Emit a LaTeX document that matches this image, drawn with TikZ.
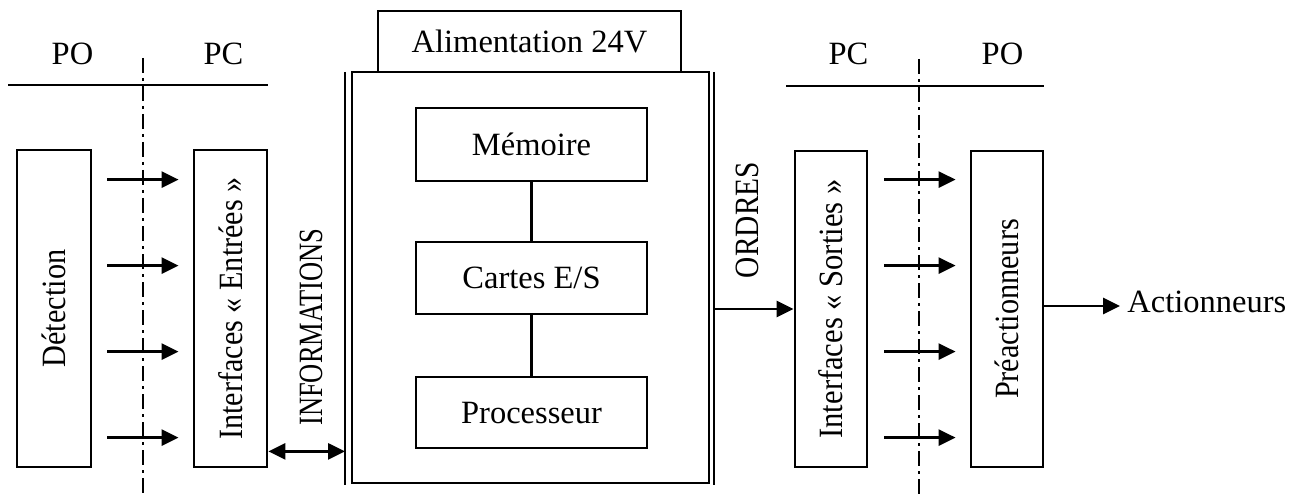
\documentclass[tikz,border=0pt]{standalone}
\usepackage{fontspec}
\setmainfont{Liberation Serif}
\usetikzlibrary{arrows.meta}
\newcommand\txtfont{\fontsize{16.25}{19}\selectfont}
\newcommand\rotfont{\fontsize{17}{20}\selectfont}
% text turned to read upwards, condensed along its length by #1
\newcommand\vlabel[2]{\rotatebox{90}{\scalebox{#1}[1]{#2}}}
\begin{document}
\begin{tikzpicture}[x=0.5pt, y=-0.5pt,
  stroke/.style={line width=1.4pt},
  box/.style={draw, line width=1.4pt, inner sep=0pt, font=\txtfont,
    text height=10.8pt, text depth=0pt},
  vbox/.style={draw, line width=1.4pt, inner sep=0pt, font=\rotfont},
  plain/.style={inner sep=0pt, font=\txtfont},
  tip/.tip={Triangle[length=8.5pt,width=8pt]},
  arr/.style={line width=1.4pt, -tip},
  darr/.style={line width=1.4pt, tip-tip},
  axis/.style={line width=1.1pt, dash pattern=on 7.5pt off 2.5pt on 1.5pt off 2.5pt}]
\useasboundingbox (0,0) rectangle (1304,497);

% ---- input side: PO | PC
\node[vbox, minimum width=37pt, minimum height=158.5pt] (det) at (54,308.5)
  {\vlabel{0.89}{Détection}};
\node[vbox, minimum width=36.5pt, minimum height=158.5pt] (inE) at (230.5,308.5)
  {\vlabel{0.887}{Interfaces « Entrées »}};
\node[plain, anchor=base] (poL) at (72.5,65) {PO};
\node[plain, anchor=base] (pcL) at (223.5,65) {PC};
\coordinate (hl) at (8,85);
\draw[stroke] (hl) -- (hl -| inE.east);
\coordinate (axL1) at (143,58);
\coordinate (axL2) at (143,497);
\draw[axis] (axL1) -- (axL2);
\foreach \dy in {31,117,203,289}
  \draw[arr] ([shift={(15,\dy)}]det.north east) -- ([shift={(-14,\dy)}]inE.north west);

% ---- automate
\node[box, minimum width=151.5pt, minimum height=30.5pt] (alim) at (529.5,41.5) {Alimentation 24V};
\node[box, minimum width=178.5pt, minimum height=205.5pt] (plc) at (530.5,277.5) {};
\node[box, minimum width=115.5pt, minimum height=36.5pt] (mem) at (531.5,144.5) {Mémoire};
\node[box, minimum width=115.5pt, minimum height=36pt] (car) at (531.5,278) {Cartes E/S};
\node[box, minimum width=115.5pt, minimum height=35.5pt] (proc) at (531.5,412.5) {Processeur};
\draw[stroke] (mem) -- (car);
\draw[stroke] (car) -- (proc);
\coordinate (oL1) at (345,72);
\coordinate (oL2) at (345,485);
\coordinate (oR1) at (714,72);
\coordinate (oR2) at (714,485);
\draw[stroke] (oL1) -- (oL2);
\draw[stroke] (oR1) -- (oR2);

% ---- information flow
\node[inner sep=0pt, font=\rotfont] (info) at (311,327) {\vlabel{0.78}{INFORMATIONS}};
\coordinate (ia) at ([yshift=8.5pt]inE.south east);
\draw[darr] (ia) -- (ia -| oL1);

% ---- output side: PC | PO
\node[vbox, minimum width=36pt, minimum height=158pt] (inS) at (831,309)
  {\vlabel{0.9}{Interfaces « Sorties »}};
\node[vbox, minimum width=36pt, minimum height=158pt] (pre) at (1007,309)
  {\vlabel{0.89}{Préactionneurs}};
\node[inner sep=0pt, font=\rotfont] (ord) at (747,220) {\vlabel{0.865}{ORDRES}};
\draw[arr] (inS.west -| oR1) -- (inS.west);
\node[plain, anchor=base] (pcR) at (848.5,65) {PC};
\node[plain, anchor=base] (poR) at (1002.5,65) {PO};
\coordinate (hr) at (786,86);
\draw[stroke] (hr) -- (hr -| pre.east);
\coordinate (axR1) at (919,59);
\coordinate (axR2) at (919,497);
\draw[axis] (axR1) -- (axR2);
\foreach \dy in {30,116,202,288}
  \draw[arr] ([shift={(16,\dy)}]inS.north east) -- ([shift={(-14,\dy)}]pre.north west);

\node[plain, anchor=west, inner xsep=3.5pt, text height=10.8pt, text depth=4pt] (act) at (1120,306) {Actionneurs};
\draw[arr] (pre.east |- act.west) -- (act.west);
\end{tikzpicture}
\end{document}
